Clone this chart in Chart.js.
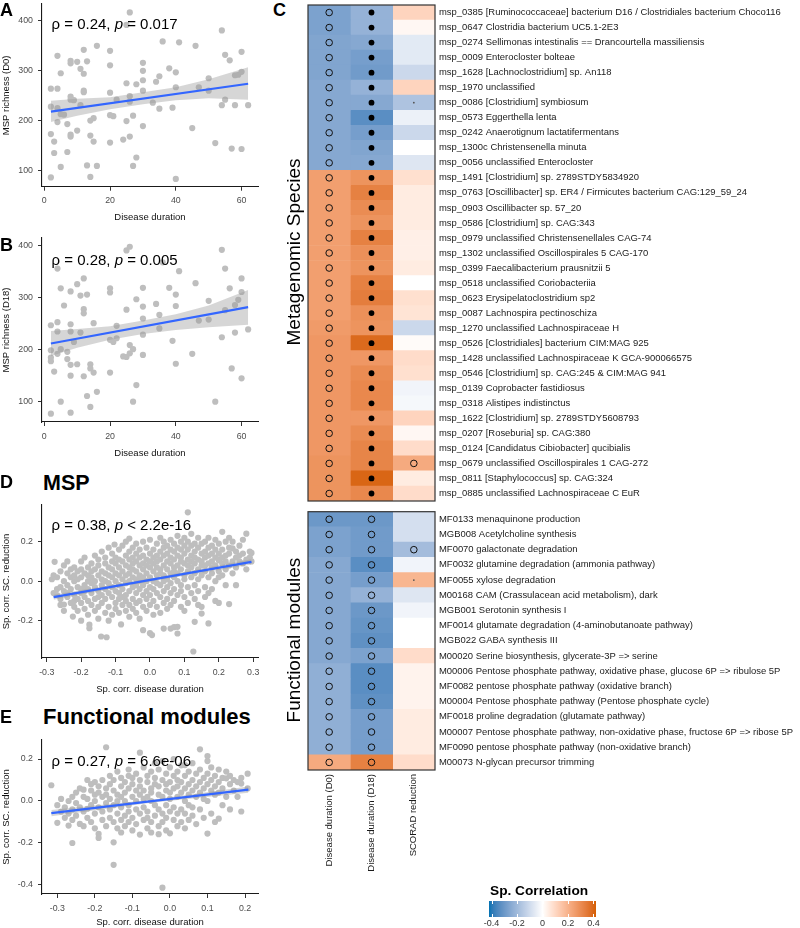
<!DOCTYPE html>
<html><head><meta charset="utf-8">
<script src="https://cdn.jsdelivr.net/npm/chart.js@4.4.1/dist/chart.umd.min.js"></script>
<style>
body{margin:0;background:#fff;font-family:"Liberation Sans",Arial,Helvetica,sans-serif;}
#wrap{position:relative;width:800px;height:928px;overflow:hidden;background:#fff;}
canvas{position:absolute;}
.t{position:absolute;white-space:nowrap;color:#000;line-height:1;z-index:5;}
.b{font-weight:bold;}
.rot{transform:translate(-50%,-50%) rotate(-90deg);}
</style></head><body><div id="wrap">
<canvas id="cA" width="262" height="223" style="left:0;top:0"></canvas>
<canvas id="cB" width="262" height="231" style="left:0;top:228px"></canvas>
<canvas id="cD" width="262" height="200" style="left:0;top:495px"></canvas>
<canvas id="cE" width="262" height="198" style="left:0;top:730px"></canvas>
<canvas id="cS" width="500" height="506" style="left:300px;top:0"></canvas>
<canvas id="cF" width="500" height="423" style="left:300px;top:505px"></canvas>
<canvas id="cL" width="145" height="35" style="left:470px;top:893px"></canvas>

<div class="t b" style="left:0;top:0.5px;font-size:18px">A</div>
<div class="t b" style="left:0;top:235.5px;font-size:18px">B</div>
<div class="t b" style="left:273px;top:0.5px;font-size:18px">C</div>
<div class="t b" style="left:0;top:472.5px;font-size:18px">D</div>
<div class="t b" style="left:0;top:707.5px;font-size:18px">E</div>
<div class="t b" style="left:43px;top:473px;font-size:21.5px">MSP</div>
<div class="t b" style="left:43px;top:705.5px;font-size:22px">Functional modules</div>
<div class="t" style="left:51.5px;top:15.8px;font-size:15px">ρ = 0.24, <i>p</i> = 0.017</div>
<div class="t" style="left:51.5px;top:252px;font-size:15px">ρ = 0.28, <i>p</i> = 0.005</div>
<div class="t" style="left:51.5px;top:517px;font-size:15px">ρ = 0.38, <i>p</i> &lt; 2.2e-16</div>
<div class="t" style="left:51.5px;top:752.5px;font-size:15px">ρ = 0.27, <i>p</i> = 6.6e-06</div>
<div class="t rot" style="left:292.5px;top:252px;font-size:19px">Metagenomic Species</div>
<div class="t rot" style="left:292.5px;top:640px;font-size:19px">Functional modules</div>
<div class="t b" style="left:490px;top:884px;font-size:13.7px">Sp. Correlation</div>
</div>
<script>
// ---------------- DATA ----------------
// Panel A: disease duration vs MSP richness (D0)
const richD0 = [[2,264],[2,228],[2,173],[2,86],[3,158],[3,135],[4,330],[4,264],[4,225],[4,197],[5,295],[5,213],[5,107],[6,212],[7,193],[7,137],[8,320],[8,315],[8,248],[8,242],[8,172],[8,168],[9,241],[10,318],[10,180],[11,304],[11,231],[12,342],[12,294],[12,260],[12,257],[13,319],[13,110],[14,200],[14,170],[14,87],[15,205],[15,158],[16,350],[16,109],[20,340],[20,311],[20,256],[20,211],[20,156],[21,209],[22,242],[24,162],[25,275],[25,199],[25,392],[26,417],[26,249],[26,238],[26,168],[27,210],[27,109],[28,273],[28,126],[30,316],[30,300],[30,281],[30,260],[30,189],[33,236],[34,278],[35,289],[35,224],[36,359],[38,305],[39,226],[40,297],[40,267],[40,83],[41,357],[45,185],[46,350],[47,267],[50,285],[50,260],[52,155],[54,381],[54,231],[55,332],[55,242],[56.4,321],[58,291],[58,231],[59,292],[60,338],[60,298],[57,144],[60,143],[62,231]];
const fitA = [[2,218],[62,274]];
const bandAx = [2,10,20,30,40,50,62];
const bandAlo = [197,210,223,233,241,245,242];
const bandAhi = [240,244,247,257,267,283,307];

// Panel B: disease duration vs MSP richness (D18)
const richD18 = [[2,247],[2,199],[2,185],[2,178],[2,77],[3,158],[4,356],[4,253],[4,235],[4,192],[5,318],[5,201],[5,100],[6,285],[7,196],[7,182],[8,312],[8,249],[8,235],[8,171],[8,150],[8,79],[9,215],[10,326],[10,172],[11,304],[11,233],[12,337],[12,278],[12,270],[12,149],[13,306],[13,111],[14,172],[14,164],[14,90],[15,251],[15,156],[16,119],[20,318],[20,310],[20,219],[20,156],[21,215],[22,246],[22,222],[24,187],[25,277],[25,186],[25,391],[26,398],[26,209],[26,193],[27,201],[27,100],[28,297],[28,132],[30,319],[30,283],[30,260],[30,229],[30,190],[34,288],[35,267],[35,241],[36,368],[38,319],[39,217],[40,306],[40,284],[40,173],[41,351],[45,192],[46,328],[47,256],[50,294],[50,258],[52,100],[54,392],[54,224],[55,356],[55,276],[56.4,318],[60,337],[60,311],[59,296],[58,286],[58,233],[62,239],[57,164],[60,145]];
const fitB = [[2,212],[62,282]];
const bandBx = [2,10,20,30,40,50,62];
const bandBlo = [188,204,219,230,238,243,248];
const bandBhi = [236,240,245,256,268,285,315];

// Panel D: MSP, Sp. corr. disease duration (x) vs Sp. corr. SC. reduction (y); [x, [y...]]
const mspCloud = [
[-0.285,[0.01]],[-0.28,[-0.06,0.03]],[-0.277,[0.098]],[-0.27,[0.02,-0.07,-0.04]],[-0.26,[-0.09,0.05,-0.03,-0.12]],
[-0.25,[0.08,-0.118,-0.05,0.0,-0.15]],[-0.24,[0.1,-0.02,-0.08,0.04,-0.06]],[-0.23,[0.02,-0.11,0.06,-0.04]],
[-0.224,[-0.179]],[-0.22,[-0.07,0.03,-0.13,0.0,0.07,-0.1]],[-0.21,[0.05,-0.03,-0.09,-0.15,0.01]],
[-0.2,[0.1,-0.04,0.02,-0.11,-0.06,0.06,-0.2]],[-0.19,[-0.02,0.04,-0.14,-0.08,0.12,-0.05]],
[-0.18,[0.0,-0.1,0.07,-0.17,0.03,-0.04]],[-0.176,[-0.22,-0.238]],[-0.17,[0.09,-0.06,-0.12,0.02,0.05,-0.01]],
[-0.16,[-0.03,0.13,-0.09,0.06,-0.15,0.0]],[-0.15,[0.08,-0.05,0.03,-0.13,-0.19,0.11,-0.08]],
[-0.142,[-0.28]],[-0.14,[0.01,-0.07,0.15,0.05,-0.11,-0.02]],[-0.126,[-0.284]],[-0.13,[0.04,-0.04,0.09,-0.16,0.12,-0.09,0.0]],
[-0.12,[-0.01,0.07,-0.13,0.17,-0.06,0.03,-0.2]],[-0.11,[0.1,-0.08,0.02,-0.03,0.14,-0.17,0.06]],
[-0.103,[0.186]],[-0.1,[-0.05,0.04,-0.11,0.09,0.0,-0.14,0.12]],[-0.09,[-0.02,0.07,-0.09,0.16,0.03,-0.16,0.11,-0.06]],
[-0.084,[-0.219]],[-0.08,[0.05,-0.04,0.1,0.01,-0.12,0.18,-0.08]],[-0.07,[0.13,-0.01,0.08,-0.07,0.03,-0.15,0.2,-0.1]],
[-0.06,[0.216,0.04,-0.05,0.11,-0.12,0.0,0.15,-0.18,0.07]],[-0.05,[-0.03,0.09,0.02,-0.09,0.17,-0.14,0.06,0.12]],
[-0.04,[0.14,-0.06,0.05,-0.02,0.1,-0.11,0.19,0.01,-0.16]],[-0.03,[0.08,-0.04,0.16,0.03,-0.1,0.12,-0.19,0.0]],
[-0.02,[-0.248,0.06,-0.07,0.13,0.02,0.2,-0.13,0.09,-0.02]],[-0.01,[0.11,-0.05,0.04,0.17,-0.09,0.0,0.08,-0.15]],
[0.0,[-0.263,0.07,-0.03,0.14,0.02,-0.12,0.21,0.1,-0.07]],[0.006,[-0.273]],[0.01,[0.05,-0.1,0.16,0.0,0.09,-0.04,0.12,-0.17]],
[0.02,[0.13,0.03,-0.06,0.19,0.07,-0.13,0.1,-0.01]],[0.03,[-0.08,0.11,0.04,0.22,-0.02,0.15,-0.16,0.06]],
[0.04,[-0.24,0.08,0.17,0.0,-0.11,0.13,0.03,-0.05,0.2]],[0.05,[0.1,-0.03,0.06,0.18,-0.09,0.14,0.01,-0.14]],
[0.06,[-0.24,0.12,0.04,0.21,-0.06,0.09,0.16,-0.01,-0.12]],[0.07,[-0.233,0.07,0.15,-0.04,0.11,0.02,0.19,-0.1,0.05]],
[0.08,[-0.265,0.13,0.0,0.08,0.23,-0.07,0.17,0.04,-0.231]],[0.09,[0.1,-0.02,0.16,0.06,-0.13,0.2,0.12,-0.05]],
[0.1,[0.03,0.14,0.09,-0.08,0.18,0.01,0.22,-0.15]],[0.11,[0.349,0.11,0.05,-0.03,0.16,0.08,-0.11,0.2]],
[0.12,[0.13,0.02,0.18,0.07,-0.06,0.1,0.24]],[0.126,[-0.356]],[0.13,[-0.206,0.09,0.15,0.04,-0.02,0.12,0.19,-0.09]],
[0.14,[0.06,0.17,-0.05,0.11,0.22,0.01,-0.12]],[0.15,[-0.164,0.14,0.08,-0.13,0.19,0.03,0.1]],
[0.16,[0.12,0.05,0.2,-0.03,0.15,0.08,-0.08]],[0.17,[0.17,0.09,-0.214,0.02,0.13,0.22,-0.06]],
[0.18,[0.1,0.18,0.04,-0.04,0.14,0.07]],[0.19,[0.21,0.12,0.0,0.16,-0.1,0.08]],[0.2,[0.11,0.05,0.19,-0.11,0.14,0.02,0.106]],
[0.21,[0.25,0.09,0.16,0.03,0.12]],[0.22,[0.13,0.2,0.06,-0.02,0.1]],[0.23,[0.17,0.08,-0.116,0.14,0.22]],
[0.24,[0.166,0.1,0.04,0.2]],[0.25,[0.12,0.07,0.15,-0.02]],[0.26,[0.18,0.1,0.13]],[0.27,[0.09,0.14,0.21]],
[0.28,[0.241,0.11,0.06]],[0.29,[0.15,0.12]],[0.295,[0.143,0.1]]
];
const fitD = [[-0.28,-0.081],[0.295,0.098]];
const bandDx = [-0.28,0.0,0.295];
const bandDlo = [-0.094,-0.002,0.085];
const bandDhi = [-0.068,0.014,0.111];

// Panel E: Functional modules
const modCloud = [
[-0.316,[0.075]],[-0.3,[-0.104,-0.02]],[-0.29,[-0.05,0.01]],[-0.28,[-0.08,-0.03]],[-0.27,[-0.117,0.0,-0.06]],
[-0.26,[-0.2,-0.04,0.02,-0.09]],[-0.25,[-0.01,-0.07,0.04]],[-0.24,[-0.109,-0.03,0.06]],[-0.23,[0.054,-0.05,0.02,-0.12]],
[-0.22,[-0.037,0.1,-0.08,0.01]],[-0.21,[0.05,-0.02,-0.1,0.08]],[-0.2,[0.09,-0.06,0.03,-0.13,0.0]],
[-0.19,[-0.157,-0.176,0.04,-0.03,0.07]],[-0.18,[0.02,-0.09,0.1,-0.05]],[-0.17,[0.256,-0.01,0.06,-0.12,0.03]],
[-0.16,[0.08,-0.04,0.12,-0.08,0.01]],[-0.15,[-0.197,-0.304,0.05,-0.02,0.1,-0.1]],[-0.14,[0.03,-0.06,0.14,-0.13,0.0]],
[-0.13,[0.07,-0.03,0.11,-0.09,0.02,-0.15]],[-0.12,[0.04,-0.07,0.09,0.0,-0.12]],[-0.11,[0.12,-0.02,0.06,-0.1,0.15,-0.05]],
[-0.1,[0.02,-0.08,0.08,-0.14,0.11]],[-0.09,[0.05,-0.04,0.13,-0.11,0.0]],[-0.08,[0.23,0.07,-0.06,0.03,-0.16,0.1]],
[-0.07,[0.01,-0.09,0.16,0.05,-0.03]],[-0.06,[0.09,-0.05,0.12,-0.13,0.02,-0.08]],[-0.05,[0.06,-0.1,0.14,0.0,-0.15,0.04]],
[-0.04,[0.18,-0.02,0.08,-0.07,0.11]],[-0.03,[0.03,-0.12,0.15,-0.04,0.07,-0.158]],[-0.02,[-0.413,0.1,-0.06,0.02,0.19,-0.1]],
[-0.01,[0.05,-0.08,0.13,-0.02,0.08,-0.14]],[0.0,[-0.154,0.01,0.16,-0.05,0.09,0.04]],[0.01,[0.12,-0.09,0.06,-0.03,0.2]],
[0.02,[-0.12,0.07,0.14,-0.06,0.02,0.1]],[0.03,[0.04,-0.1,0.17,0.09,-0.04]],[0.04,[0.171,-0.06,0.06,0.0,0.12,-0.13]],
[0.05,[0.08,-0.02,0.14,0.03,-0.09]],[0.06,[0.1,-0.07,0.05,0.18,-0.03]],[0.07,[0.02,0.13,-0.11,0.07]],
[0.08,[0.246,0.09,-0.04,0.15,0.04]],[0.09,[0.11,-0.08,0.06,0.01]],[0.1,[0.214,0.19,-0.155,0.08,0.0,0.13]],
[0.11,[0.05,-0.06,0.1,0.16]],[0.12,[0.12,0.03,-0.1,0.07]],[0.13,[-0.084,0.09,0.15,0.04]],[0.14,[0.06,0.11,-0.02]],
[0.15,[0.108,0.02,0.14]],[0.16,[0.08,-0.04,0.12]],[0.17,[0.05,0.1]],[0.18,[0.02,0.09]],[0.19,[0.083,0.11,-0.05]],[0.207,[0.13,0.06]]
];
const fitE = [[-0.316,-0.058],[0.209,0.054]];
const bandEx = [-0.316,-0.05,0.209];
const bandElo = [-0.073,-0.008,0.039];
const bandEhi = [-0.043,0.006,0.069];

// Panel C heatmap
const heatColumns = ["Disease duration (D0)","Disease duration (D18)","SCORAD reduction"];
const speciesRows = [
"msp_0385 [Ruminococcaceae] bacterium D16 / Clostridiales bacterium Choco116",
"msp_0647 Clostridia bacterium UC5.1-2E3",
"msp_0274 Sellimonas intestinalis == Drancourtella massiliensis",
"msp_0009 Enterocloster bolteae",
"msp_1628 [Lachnoclostridium] sp. An118",
"msp_1970 unclassified",
"msp_0086 [Clostridium] symbiosum",
"msp_0573 Eggerthella lenta",
"msp_0242 Anaerotignum lactatifermentans",
"msp_1300c Christensenella minuta",
"msp_0056 unclassified Enterocloster",
"msp_1491 [Clostridium] sp. 2789STDY5834920",
"msp_0763 [Oscillibacter] sp. ER4 / Firmicutes bacterium CAG:129_59_24",
"msp_0903 Oscillibacter sp. 57_20",
"msp_0586 [Clostridium] sp. CAG:343",
"msp_0979 unclassified Christensenellales CAG-74",
"msp_1302 unclassified Oscillospirales 5 CAG-170",
"msp_0399 Faecalibacterium prausnitzii 5",
"msp_0518 unclassified Coriobacteriia",
"msp_0623 Erysipelatoclostridium sp2",
"msp_0087 Lachnospira pectinoschiza",
"msp_1270 unclassified Lachnospiraceae H",
"msp_0526 [Clostridiales] bacterium CIM:MAG 925",
"msp_1428 unclassified Lachnospiraceae K GCA-900066575",
"msp_0546 [Clostridium] sp. CAG:245 & CIM:MAG 941",
"msp_0139 Coprobacter fastidiosus",
"msp_0318 Alistipes indistinctus",
"msp_1622 [Clostridium] sp. 2789STDY5608793",
"msp_0207 [Roseburia] sp. CAG:380",
"msp_0124 [Candidatus Cibiobacter] qucibialis",
"msp_0679 unclassified Oscillospirales 1 CAG-272",
"msp_0811 [Staphylococcus] sp. CAG:324",
"msp_0885 unclassified Lachnospiraceae C EuR"];
const speciesD0  = [-0.27,-0.27,-0.26,-0.26,-0.26,-0.25,-0.25,-0.25,-0.25,-0.25,-0.25, 0.25,0.25,0.25,0.25,0.25,0.25,0.25,0.25,0.25,0.25,0.26,0.27,0.27,0.27,0.27,0.27,0.27,0.27,0.27,0.28,0.28,0.28];
const speciesD18 = [-0.22,-0.22,-0.25,-0.28,-0.29,-0.22,-0.25,-0.33,-0.28,-0.26,-0.25, 0.28,0.33,0.30,0.28,0.33,0.29,0.28,0.33,0.34,0.29,0.28,0.39,0.27,0.30,0.31,0.31,0.27,0.30,0.32,0.32,0.40,0.31];
const speciesSC  = [0.11,0.02,-0.06,-0.06,-0.11,0.11,-0.17,-0.04,-0.11,0.0,-0.07, 0.08,0.05,0.05,0.05,0.04,0.04,0.05,0.0,0.08,0.07,-0.11,0.01,0.09,0.08,-0.03,-0.02,0.11,0.02,0.09,0.22,0.05,0.09];
// significance marks per row (D0, D18, SCORAD): o = open circle, * = filled dot, . = small dot
const speciesMarks = ["o* ","o* ","o* ","o* ","o* ","o* ","o*.","o* ","o* ","o* ","o* ","o* ","o* ","o* ","o* ","o* ","o* ","o* ","o* ","o* ","o* ","o* ","o* ","o* ","o* ","o* ","o* ","o* ","o* ","o* ","o*o","o* ","o* "];

const moduleRows = [
"MF0133 menaquinone production",
"MGB008 Acetylcholine synthesis",
"MF0070 galactonate degradation",
"MF0032 glutamine degradation (ammonia pathway)",
"MF0055 xylose degradation",
"M00168 CAM (Crassulacean acid metabolism), dark",
"MGB001 Serotonin synthesis I",
"MF0014 glutamate degradation (4-aminobutanoate pathway)",
"MGB022 GABA synthesis III",
"M00020 Serine biosynthesis, glycerate-3P => serine",
"M00006 Pentose phosphate pathway, oxidative phase, glucose 6P => ribulose 5P",
"MF0082 pentose phosphate pathway (oxidative branch)",
"M00004 Pentose phosphate pathway (Pentose phosphate cycle)",
"MF0018 proline degradation (glutamate pathway)",
"M00007 Pentose phosphate pathway, non-oxidative phase, fructose 6P => ribose 5P",
"MF0090 pentose phosphate pathway (non-oxidative branch)",
"M00073 N-glycan precursor trimming"];
const moduleD0  = [-0.30,-0.27,-0.27,-0.25,-0.25,-0.25,-0.25,-0.25,-0.25,-0.25,-0.23,-0.23,-0.23,-0.23,-0.23,-0.23,0.22];
const moduleD18 = [-0.30,-0.29,-0.29,-0.33,-0.28,-0.22,-0.30,-0.31,-0.32,-0.27,-0.33,-0.33,-0.32,-0.28,-0.28,-0.28,0.33];
const moduleSC  = [-0.09,-0.09,-0.19,-0.03,0.19,-0.07,-0.03,0.0,0.0,0.09,0.03,0.03,0.03,0.05,0.05,0.05,0.09];
const moduleMarks = ["oo ","oo ","ooo","oo ","oo.","oo ","oo ","oo ","oo ","oo ","oo ","oo ","oo ","oo ","oo ","oo ","oo "];

const colorLimit = 0.42;
const legendTicks = [-0.4,-0.2,0,0.2,0.4];

// ---------------- COLOR ----------------
function s2l(c){c/=255;return c<=0.04045?c/12.92:Math.pow((c+0.055)/1.055,2.4);}
function l2s(c){c=c<=0.0031308?12.92*c:1.055*Math.pow(c,1/2.4)-0.055;return Math.round(Math.max(0,Math.min(1,c))*255);}
function rgb2lab(rgb){const r=s2l(rgb[0]),g=s2l(rgb[1]),b=s2l(rgb[2]);
 let x=(r*0.4124+g*0.3576+b*0.1805)/0.95047,y=(r*0.2126+g*0.7152+b*0.0722),z=(r*0.0193+g*0.1192+b*0.9505)/1.08883;
 const f=t=>t>0.008856?Math.cbrt(t):7.787*t+16/116; x=f(x);y=f(y);z=f(z);
 return [116*y-16,500*(x-y),200*(y-z)];}
function lab2rgb(lab){let y=(lab[0]+16)/116,x=lab[1]/500+y,z=y-lab[2]/200;
 const fi=t=>t*t*t>0.008856?t*t*t:(t-16/116)/7.787; x=fi(x)*0.95047;y=fi(y);z=fi(z)*1.08883;
 return [l2s(x*3.2406-y*1.5372-z*0.4986),l2s(-x*0.9689+y*1.8758+z*0.0415),l2s(x*0.0557-y*0.2040+z*1.0570)];}
const LAB_LOW=rgb2lab([0,114,178]), LAB_MID=rgb2lab([255,255,255]), LAB_HIGH=rgb2lab([213,94,0]);
function colorFor(v){let t=Math.max(-1,Math.min(1,v/colorLimit));const end=t<0?LAB_LOW:LAB_HIGH;t=Math.abs(t);
 const lab=[0,1,2].map(i=>LAB_MID[i]+(end[i]-LAB_MID[i])*t);const c=lab2rgb(lab);return `rgb(${c[0]},${c[1]},${c[2]})`;}

// ---------------- CHARTS ----------------
const FONT="'Liberation Sans', Arial, Helvetica, sans-serif";
Chart.defaults.font.family=FONT;
Chart.defaults.animation=false;
Chart.defaults.plugins.legend.display=false;
Chart.defaults.plugins.tooltip.enabled=false;

function expandCloud(cloud){const out=[];cloud.forEach(([x,ys])=>ys.forEach(y=>out.push([x,y])));return out;}
function noPad(s){s.paddingTop=0;s.paddingBottom=0;s.paddingLeft=0;s.paddingRight=0;}

function scatterPanel(id,c){
  const pts=c.points.map(p=>({x:p[0],y:p[1]}));
  const axisCommon=(ticks,fmt)=>({
    type:'linear',bounds:'data',
    afterBuildTicks:s=>{s.ticks=ticks.map(v=>({value:v}));},
    ticks:{font:{size:8.8},color:'#4d4d4d',autoSkip:false,maxRotation:0,callback:fmt},
    grid:{display:true,drawOnChartArea:false,drawTicks:true,tickLength:4,color:'#333',lineWidth:1},
    border:{display:true,color:'#1a1a1a',width:1.1}
  });
  const x=Object.assign(axisCommon(c.xTicks,c.xFmt),{min:c.xMin,max:c.xMax,
     title:{display:true,text:c.xTitle,font:{size:9.5},color:'#111',padding:{top:c.xTitlePad,bottom:0}},
     afterFit:s=>{s.height=c.xH;noPad(s);}});
  x.ticks.padding=5;
  const y=Object.assign(axisCommon(c.yTicks,c.yFmt),{min:c.yMin,max:c.yMax,
     title:{display:true,text:c.yTitle,font:{size:9.5},color:'#111',padding:{top:0.5,bottom:0}},
     afterFit:s=>{s.width=42;noPad(s);}});
  y.ticks.padding=5;
  new Chart(document.getElementById(id),{
    type:'scatter',
    data:{datasets:[
      {type:'line',data:c.fit.map(([a,b])=>({x:a,y:b})),borderColor:'#3366FF',borderWidth:2.2,pointRadius:0,fill:false,order:0},
      {type:'line',data:c.bandX.map((a,i)=>({x:a,y:c.bandHi[i]})),borderWidth:0,borderColor:'rgba(0,0,0,0)',pointRadius:0,fill:'+1',backgroundColor:'rgba(153,153,153,0.4)',order:1},
      {type:'line',data:c.bandX.map((a,i)=>({x:a,y:c.bandLo[i]})),borderWidth:0,borderColor:'rgba(0,0,0,0)',pointRadius:0,fill:false,order:1},
      {data:pts,pointRadius:3.1,pointBackgroundColor:'#bebebe',pointBorderWidth:0,order:2}
    ]},
    options:{responsive:false,animation:false,events:[],clip:false,
      layout:{padding:{left:0,right:4,top:c.padTop,bottom:0}},
      scales:{x,y}}
  });
}
const intFmt=v=>String(v), oneDec=v=>(Math.abs(v)<1e-9?0:v).toFixed(1);

scatterPanel('cA',{points:richD0,fit:fitA,bandX:bandAx,bandLo:bandAlo,bandHi:bandAhi,
  xMin:-0.7,xMax:65,yMin:67.4,yMax:434,xTicks:[0,20,40,60],yTicks:[100,200,300,400],xFmt:intFmt,yFmt:intFmt,
  xTitle:'Disease duration',yTitle:'MSP richness (D0)',padTop:2.2,xH:36.3,xTitlePad:7.5});
scatterPanel('cB',{points:richD18,fit:fitB,bandX:bandBx,bandLo:bandBlo,bandHi:bandBhi,
  xMin:-0.7,xMax:65,yMin:61,yMax:414.8,xTicks:[0,20,40,60],yTicks:[100,200,300,400],xFmt:intFmt,yFmt:intFmt,
  xTitle:'Disease duration',yTitle:'MSP richness (D18)',padTop:10,xH:37,xTitlePad:7.5});
scatterPanel('cD',{points:expandCloud(mspCloud),fit:fitD,bandX:bandDx,bandLo:bandDlo,bandHi:bandDhi,
  xMin:-0.3137,xMax:0.3139,yMin:-0.389,yMax:0.386,xTicks:[-0.3,-0.2,-0.1,0,0.1,0.2,0.3],yTicks:[-0.2,0,0.2],xFmt:oneDec,yFmt:oneDec,
  xTitle:'Sp. corr. disease duration',yTitle:'Sp. corr. SC. reduction',padTop:10,xH:37,xTitlePad:7.5});
scatterPanel('cE',{points:expandCloud(modCloud),fit:fitE,bandX:bandEx,bandLo:bandElo,bandHi:bandEhi,
  xMin:-0.3408,xMax:0.2346,yMin:-0.4429,yMax:0.2905,xTicks:[-0.3,-0.2,-0.1,0,0.1,0.2],yTicks:[-0.4,-0.2,0,0.2],xFmt:oneDec,yFmt:oneDec,
  xTitle:'Sp. corr. disease duration',yTitle:'Sp. corr. SC. reduction',padTop:10,xH:34,xTitlePad:1.3});

const framePlugin={id:'frame',afterDatasetsDraw(chart){const {ctx,chartArea:a}=chart;ctx.save();ctx.strokeStyle='#333';ctx.lineWidth=1.2;
  ctx.strokeRect(a.left,a.top,a.right-a.left,a.bottom-a.top);ctx.restore();}};

function heatmap(id,rows,cols,marks,o){
  const datasets=[];
  const styles={'o':{r:3.3,bg:'rgba(0,0,0,0)',bc:'#111',bw:1},'*':{r:2.9,bg:'#000',bc:'#000',bw:0},'.':{r:0.9,bg:'#555',bc:'#555',bw:0}};
  Object.keys(styles).forEach(k=>{
    const data=[];
    marks.forEach((m,i)=>{for(let c=0;c<3;c++) if(m[c]===k) data.push({x:c,y:rows[i]});});
    const s=styles[k];
    datasets.push({type:'scatter',data,pointRadius:s.r,pointBackgroundColor:s.bg,pointBorderColor:s.bc,pointBorderWidth:s.bw,order:0});
  });
  cols.forEach((vals,c)=>datasets.push({type:'bar',indexAxis:'y',data:vals.map(()=>[c-0.5,c+0.5]),
     backgroundColor:vals.map(colorFor),borderWidth:0,grouped:false,barPercentage:1,categoryPercentage:1,order:1}));
  new Chart(document.getElementById(id),{
    type:'bar',
    data:{labels:rows,datasets},
    options:{responsive:false,animation:false,events:[],
      layout:{padding:{left:8,right:0,top:o.padTop,bottom:o.padBottom}},
      scales:{
        x:{type:'linear',min:-0.5,max:2.5,offset:false,display:o.showX,
           afterBuildTicks:s=>{s.ticks=[0,1,2].map(v=>({value:v}));},
           ticks:{autoSkip:false,minRotation:90,maxRotation:90,font:{size:9.5},color:'#1a1a1a',padding:4,callback:v=>heatColumns[v]},
           grid:{display:false,drawTicks:false,tickLength:0},border:{display:false},afterFit:s=>{s.height=o.xH;noPad(s);}},
        y:{type:'category',position:'right',offset:true,
           ticks:{autoSkip:false,font:{size:9.45},color:'#1a1a1a',padding:4},
           grid:{display:false,drawTicks:false,tickLength:0},border:{display:false},afterFit:s=>{s.width=365;noPad(s);}}
      }},
    plugins:[framePlugin]
  });
}
heatmap('cS',speciesRows,[speciesD0,speciesD18,speciesSC],speciesMarks,{padTop:1.4,padBottom:3,showX:false,xH:0});
heatmap('cF',moduleRows,[moduleD0,moduleD18,moduleSC],moduleMarks,{padTop:6.7,padBottom:0,showX:true,xH:158});

// colour bar legend
const cbTickPlugin={id:'cbticks',afterDatasetsDraw(chart){const {ctx,chartArea:a,scales}=chart;ctx.save();ctx.strokeStyle='#fff';ctx.lineWidth=1;
  legendTicks.forEach(v=>{const x=Math.round(scales.x.getPixelForValue(v))+0.5;ctx.beginPath();ctx.moveTo(x,a.top);ctx.lineTo(x,a.top+3);ctx.moveTo(x,a.bottom-3);ctx.lineTo(x,a.bottom);ctx.stroke();});
  ctx.restore();}};
new Chart(document.getElementById('cL'),{
  type:'bar',
  data:{labels:['cb'],datasets:[{indexAxis:'y',data:[[-colorLimit,colorLimit]],borderWidth:0,barPercentage:1,categoryPercentage:1,
    backgroundColor:(ctx)=>{const ch=ctx.chart;if(!ch.chartArea)return '#fff';const xs=ch.scales.x;
      const g=ch.ctx.createLinearGradient(xs.getPixelForValue(-colorLimit),0,xs.getPixelForValue(colorLimit),0);
      for(let i=0;i<=40;i++){g.addColorStop(i/40,colorFor(-colorLimit+2*colorLimit*i/40));}return g;}}]},
  options:{responsive:false,animation:false,events:[],
    layout:{padding:{left:19,right:19,top:8,bottom:0}},
    scales:{
      x:{type:'linear',min:-colorLimit,max:colorLimit,offset:false,
        afterBuildTicks:s=>{s.ticks=legendTicks.map(v=>({value:v}));},
        ticks:{autoSkip:false,maxRotation:0,font:{size:9},color:'#333',padding:1,callback:v=>Math.abs(v)<1e-9?'0':v.toFixed(1)},
        grid:{display:false,drawTicks:false,tickLength:0},border:{display:false},afterFit:s=>{s.height=11;noPad(s);}},
      y:{type:'category',display:false,offset:true,afterFit:s=>{noPad(s);}}
    }},
  plugins:[cbTickPlugin]
});
</script>
</body></html>
